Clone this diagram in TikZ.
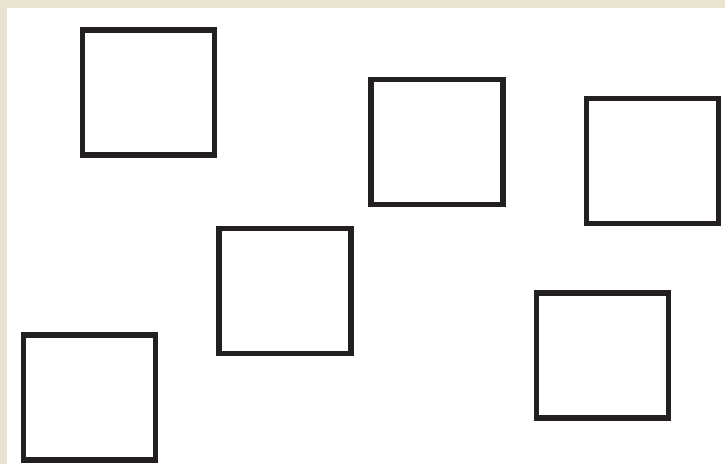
\documentclass[tikz,border=0pt]{standalone}
\usepackage{xcolor}
\usepackage{tikz}
\definecolor{paper}{HTML}{E9E3D2}
\definecolor{ink}{HTML}{231F20}

\begin{document}
\begin{tikzpicture}[
  x=1pt, y=-1pt,
  frame/.style={
    rectangle, draw=ink, line width=5.5pt, fill=white,
    minimum width=132pt, minimum height=125pt, inner sep=0pt, outer sep=0pt
  },
]
\useasboundingbox (0,0) rectangle (725,464);
\fill[paper] (0,0) rectangle (725,464);
\fill[white] (7,8) rectangle (725,464);
\node[frame] (boxA) at (148.5,92.5)  {};
\node[frame] (boxB) at (437,142)     {};
\node[frame] (boxC) at (652.5,161)   {};
\node[frame] (boxD) at (285,291)     {};
\node[frame] (boxE) at (602.5,355.5) {};
\node[frame] (boxF) at (89.5,397.5)  {};
\end{tikzpicture}
\end{document}
